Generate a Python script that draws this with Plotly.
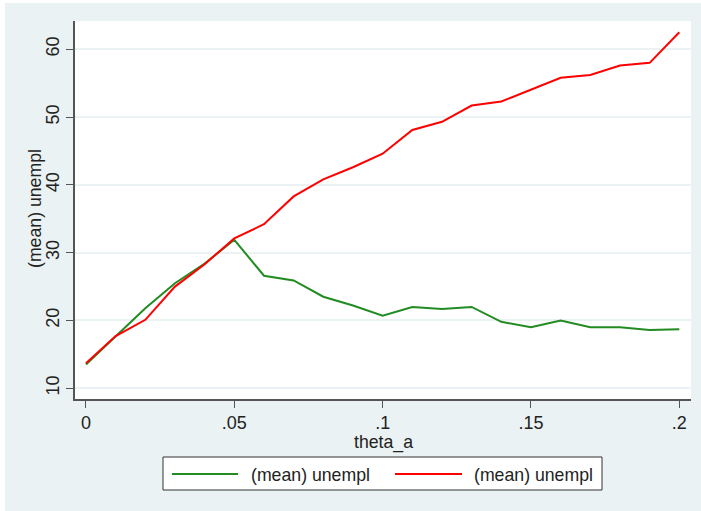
import plotly.graph_objects as go

# theta_a grid and mean unemployment for the two scenarios
theta_a = [0.00, 0.01, 0.02, 0.03, 0.04, 0.05, 0.06, 0.07, 0.08, 0.09, 0.10,
           0.11, 0.12, 0.13, 0.14, 0.15, 0.16, 0.17, 0.18, 0.19, 0.20]
unempl_green = [13.5, 17.7, 21.8, 25.5, 28.4, 31.9, 26.6, 25.9, 23.5, 22.2, 20.7,
                22.0, 21.7, 22.0, 19.8, 19.0, 20.0, 19.0, 19.0, 18.6, 18.7]
unempl_red = [13.7, 17.7, 20.1, 25.0, 28.3, 32.1, 34.2, 38.3, 40.8, 42.6, 44.6,
              48.1, 49.3, 51.7, 52.3, 54.1, 55.8, 56.2, 57.6, 58.0, 62.5]
series_names = ["(mean) unempl", "(mean) unempl"]
x_title = "theta_a"
y_title = "(mean) unempl"
x_tickvals = [0, 0.05, 0.1, 0.15, 0.2]
x_ticktext = ["0", ".05", ".1", ".15", ".2"]
y_tickvals = [10, 20, 30, 40, 50, 60]

GREEN = "#228b22"
RED = "#ff0000"
BG = "#eaf2f3"
AXIS = "#555555"
TEXT = "#222222"
FONT = "Liberation Sans, Arial, sans-serif"
FS = 17.7

W, H = 701, 511
L, R, T, B = 75, 10, 21, 112
PW, PH = W - L - R, H - T - B


def px(xpix):
    return (xpix - L) / PW


def py(ypix):
    return (H - B - ypix) / PH


fig = go.Figure()
fig.add_trace(go.Scatter(x=theta_a, y=unempl_green, mode="lines", name=series_names[0],
                         line=dict(color=GREEN, width=2), showlegend=False))
fig.add_trace(go.Scatter(x=theta_a, y=unempl_red, mode="lines", name=series_names[1],
                         line=dict(color=RED, width=2), showlegend=False))

shapes = [
    # thin white border around the graph region
    dict(type="rect", xref="paper", yref="paper", x0=px(0), x1=px(5), y0=py(H), y1=py(0),
         fillcolor="white", line=dict(width=0)),
    dict(type="rect", xref="paper", yref="paper", x0=px(0), x1=px(W), y0=py(3), y1=py(0),
         fillcolor="white", line=dict(width=0)),
    # legend box
    dict(type="rect", xref="paper", yref="paper", x0=px(163), x1=px(602), y0=py(490), y1=py(457),
         fillcolor="white", line=dict(color="#333333", width=1)),
    dict(type="line", xref="paper", yref="paper", x0=px(172), x1=px(238), y0=py(474), y1=py(474),
         line=dict(color=GREEN, width=2)),
    dict(type="line", xref="paper", yref="paper", x0=px(395), x1=px(462), y0=py(474), y1=py(474),
         line=dict(color=RED, width=2)),
]
annotations = [
    # legend labels
    dict(xref="paper", yref="paper", x=px(249), y=py(475), text=series_names[0], showarrow=False,
         xanchor="left", yanchor="middle", font=dict(family=FONT, size=FS, color=TEXT)),
    dict(xref="paper", yref="paper", x=px(472), y=py(475), text=series_names[1], showarrow=False,
         xanchor="left", yanchor="middle", font=dict(family=FONT, size=FS, color=TEXT)),
    # axis titles
    dict(xref="paper", yref="paper", x=px(383), y=py(442), text=x_title, showarrow=False,
         xanchor="center", yanchor="middle", borderpad=0,
         font=dict(family=FONT, size=FS, color=TEXT)),
    dict(xref="paper", yref="paper", x=px(35), y=py(209), text=y_title, showarrow=False,
         textangle=-90, xanchor="center", yanchor="middle",
         font=dict(family=FONT, size=FS, color=TEXT)),
]

fig.update_layout(
    width=W, height=H,
    margin=dict(l=L, r=R, t=T, b=B, pad=0),
    paper_bgcolor=BG, plot_bgcolor="white",
    font=dict(family=FONT, size=18, color=TEXT),
    shapes=shapes, annotations=annotations,
    xaxis=dict(range=[-0.0037, 0.20394], tickvals=x_tickvals, ticktext=x_ticktext,
               tickfont=dict(size=18),
               showgrid=False, zeroline=False, showline=True, linecolor=AXIS, linewidth=1.5,
               ticks="outside", ticklen=7, tickwidth=1, tickcolor=AXIS),
    yaxis=dict(range=[8.42, 64.17], tickvals=y_tickvals, tickangle=-90,
               tickfont=dict(size=18),
               showgrid=True, gridcolor=BG, gridwidth=1.5, zeroline=False,
               showline=True, linecolor=AXIS, linewidth=1.5,
               ticks="outside", ticklen=7, tickwidth=1, tickcolor=AXIS),
)

fig.write_html("out.html")
